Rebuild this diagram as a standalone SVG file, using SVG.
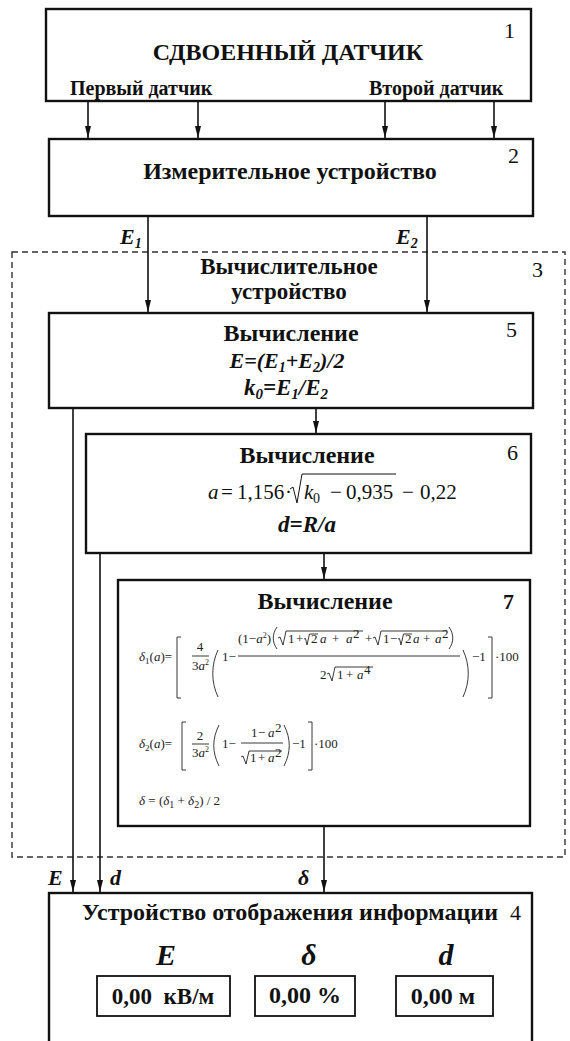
<svg xmlns="http://www.w3.org/2000/svg" width="570" height="1041" viewBox="0 0 570 1041">
<defs>
<marker id="ah" markerUnits="userSpaceOnUse" markerWidth="13" markerHeight="7" refX="12" refY="3" orient="auto"><path d="M0,0 L12,3 L0,6 z" fill="#111"/></marker>
<style>
.box{fill:#fff;stroke:#111;stroke-width:2.4}
.vbox{fill:#fff;stroke:#111;stroke-width:1.8}
.dash{fill:none;stroke:#333;stroke-width:1.4;stroke-dasharray:6 4}
.con{fill:none;stroke:#111;stroke-width:1.6}
.t{font-family:'Liberation Serif','DejaVu Serif','Times New Roman',serif;fill:#111}
.b{font-weight:bold}
.i{font-style:italic}
.m{font-family:'Liberation Serif','DejaVu Serif','Times New Roman',serif;font-size:13px;fill:#222}
.ml{fill:none;stroke:#222;stroke-width:0.9}
</style>
</defs>
<rect width="570" height="1041" fill="#fff"/>

<g id="block3">
<rect class="dash" x="12" y="252" width="553" height="605"/>
<text class="t b" font-size="23" x="289" y="274" text-anchor="middle">Вычислительное</text>
<text class="t b" font-size="23" x="289" y="299" text-anchor="middle">устройство</text>
<text class="t" font-size="22" x="532" y="277">3</text>
</g>

<g id="block1">
<rect class="box" x="46" y="9" width="485" height="92"/>
<text class="t b" font-size="24" x="288" y="60" text-anchor="middle">СДВОЕННЫЙ ДАТЧИК</text>
<text class="t" font-size="22" x="504" y="38">1</text>
<text class="t b" font-size="20" x="70" y="95">Первый датчик</text>
<text class="t b" font-size="20" x="369" y="95">Второй датчик</text>
</g>

<g id="block2">
<rect class="box" x="49" y="139" width="484" height="77"/>
<text class="t b" font-size="24" x="290" y="179" text-anchor="middle">Измерительное устройство</text>
<text class="t" font-size="22" x="508" y="163">2</text>
</g>

<g id="block5">
<rect class="box" x="49" y="313" width="484" height="95"/>
<text class="t b" font-size="24" x="291" y="341" text-anchor="middle">Вычисление</text>
<text class="t b i" font-size="22" x="287" y="368" text-anchor="middle">E=(E<tspan font-size="14" dy="4">1</tspan><tspan dy="-4">+E</tspan><tspan font-size="14" dy="4">2</tspan><tspan dy="-4">)/2</tspan></text>
<text class="t b i" font-size="23" x="286" y="395" text-anchor="middle">k<tspan font-size="15" dy="4">0</tspan><tspan dy="-4">=E</tspan><tspan font-size="15" dy="4">1</tspan><tspan dy="-4">/E</tspan><tspan font-size="15" dy="4">2</tspan></text>
<text class="t" font-size="22" x="506" y="337">5</text>
</g>

<g id="block6">
<rect class="box" x="86" y="434" width="445" height="119"/>
<text class="t b" font-size="24" x="307" y="463" text-anchor="middle">Вычисление</text>
<text class="t" font-size="22" x="507" y="460">6</text>
<g class="t" font-size="21">
<text x="208" y="499" class="i">a</text>
<text x="221" y="499">=</text>
<text x="237" y="499">1,156</text>
<text x="285" y="499">·</text>
<text x="304" y="499" class="i">k</text>
<text x="313" y="503" font-size="14">0</text>
<text x="330" y="499">−</text>
<text x="346" y="499">0,935</text>
<text x="402" y="499">−</text>
<text x="420" y="499">0,22</text>
</g>
<path d="M290,489 L293,487 L297,503 L302,474 H396" fill="none" stroke="#111" stroke-width="1"/>
<text class="t b i" font-size="23" x="307" y="532" text-anchor="middle">d=R/a</text>
</g>

<g id="block7">
<rect class="box" x="118" y="580" width="412" height="246"/>
<text class="t b" font-size="24" x="325" y="609" text-anchor="middle">Вычисление</text>
<text class="t b" font-size="22" x="503" y="609">7</text>
<text class="m" x="139" y="661"><tspan class="i">δ</tspan><tspan font-size="9" dy="3">1</tspan><tspan dy="-3">(</tspan><tspan class="i">a</tspan>)=</text>
<path class="ml" d="M181,637 H177 V698 H181"/>
<text class="m" x="200" y="651" text-anchor="middle">4</text>
<path class="ml" d="M192,656 H209"/>
<text class="m" x="192" y="670">3<tspan class="i">a</tspan><tspan font-size="8" dy="-5">2</tspan></text>
<path class="ml" d="M218,650 C211,665 211,682 218,697"/>
<text class="m" x="222" y="661">1−</text>
<text class="m" x="238" y="643">(1−<tspan class="i">a</tspan><tspan font-size="8" dy="-5">2</tspan><tspan dy="5">)</tspan></text>
<path class="ml" d="M277,627 C272,634 272,642 277,649"/>
<path class="ml" d="M278,638 L280,637 L283,645 L286,631 H363"/>
<text class="m" x="288" y="643">1</text>
<text class="m" x="296" y="643">+</text>
<path class="ml" d="M304,639 L305.5,638.5 L307,645 L309.5,634 H318"/>
<text class="m" x="311" y="643">2</text>
<text class="m" x="320" y="643"><tspan class="i">a</tspan></text>
<text class="m" x="332" y="643">+</text>
<text class="m" x="346" y="643"><tspan class="i">a</tspan></text>
<text class="m" x="353" y="638" font-size="8">2</text>
<text class="m" x="365" y="643">+</text>
<path class="ml" d="M373,638 L375,637 L378,645 L381,631 H447"/>
<text class="m" x="383" y="643">1</text>
<text class="m" x="390" y="643">−</text>
<path class="ml" d="M398,639 L399.5,638.5 L401,645 L403.5,634 H412"/>
<text class="m" x="405" y="643">2</text>
<text class="m" x="413" y="643"><tspan class="i">a</tspan></text>
<text class="m" x="423" y="643">+</text>
<text class="m" x="435" y="643"><tspan class="i">a</tspan></text>
<text class="m" x="442" y="638" font-size="8">2</text>
<path class="ml" d="M449,627 C454,634 454,642 449,649"/>
<path class="ml" d="M238,656 H460"/>
<text class="m" x="320" y="679">2</text>
<path class="ml" d="M327,674 L329,673 L332,681 L335,667 H373"/>
<text class="m" x="337" y="679">1</text>
<text class="m" x="346" y="679">+</text>
<text class="m" x="357" y="679"><tspan class="i">a</tspan></text>
<text class="m" x="364" y="674" font-size="8">4</text>
<path class="ml" d="M463,650 C470,665 470,682 463,697"/>
<text class="m" x="472" y="661">−1</text>
<path class="ml" d="M488,637 H492 V698 H488"/>
<text class="m" x="495" y="661">·100</text>
<text class="m" x="139" y="748"><tspan class="i">δ</tspan><tspan font-size="9" dy="3">2</tspan><tspan dy="-3">(</tspan><tspan class="i">a</tspan>)=</text>
<path class="ml" d="M186,722 H182 V770 H186"/>
<text class="m" x="200" y="740" text-anchor="middle">2</text>
<path class="ml" d="M192,744 H209"/>
<text class="m" x="192" y="757">3<tspan class="i">a</tspan><tspan font-size="8" dy="-5">2</tspan></text>
<path class="ml" d="M219,725 C212,739 212,752 219,766"/>
<text class="m" x="222" y="748">1−</text>
<text class="m" x="251" y="737">1</text>
<text class="m" x="258" y="737">−</text>
<text class="m" x="268" y="737"><tspan class="i">a</tspan></text>
<text class="m" x="275" y="732" font-size="8">2</text>
<path class="ml" d="M241,743 H283"/>
<path class="ml" d="M241,757 L243,756 L246,764 L249,751 H282"/>
<text class="m" x="250" y="762">1</text>
<text class="m" x="258" y="762">+</text>
<text class="m" x="268" y="762"><tspan class="i">a</tspan></text>
<text class="m" x="275" y="757" font-size="8">2</text>
<path class="ml" d="M284,725 C291,739 291,752 284,766"/>
<text class="m" x="292" y="748">−1</text>
<path class="ml" d="M308,722 H312 V770 H308"/>
<text class="m" x="314" y="748">·100</text>
<text class="m" font-size="15" x="139" y="805"><tspan class="i">δ</tspan> = (<tspan class="i">δ</tspan><tspan font-size="10" dy="3">1</tspan><tspan dy="-3"> + </tspan><tspan class="i">δ</tspan><tspan font-size="10" dy="3">2</tspan><tspan dy="-3">) / 2</tspan></text>
</g>

<g id="block4">
<rect class="box" x="49" y="893" width="483" height="170"/>
<text class="t b" font-size="24" x="290" y="920" text-anchor="middle">Устройство отображения информации</text>
<text class="t" font-size="22" x="510" y="920">4</text>
<text class="t b i" font-size="30" x="166" y="965" text-anchor="middle">E</text>
<text class="t b i" font-size="30" x="309" y="965" text-anchor="middle">δ</text>
<text class="t b i" font-size="30" x="446" y="965" text-anchor="middle">d</text>
<rect class="vbox" x="97" y="976" width="133" height="40"/>
<rect class="vbox" x="255" y="976" width="100" height="40"/>
<rect class="vbox" x="396" y="976" width="97" height="40"/>
<text class="t b" font-size="23" x="163" y="1004" text-anchor="middle" xml:space="preserve">0,00  кВ/м</text>
<text class="t b" font-size="24" x="305" y="1003" text-anchor="middle">0,00 %</text>
<text class="t b" font-size="24" x="443" y="1004" text-anchor="middle">0,00 м</text>
</g>

<g id="connectors">
<path class="con" marker-end="url(#ah)" d="M88,101 V138"/>
<path class="con" marker-end="url(#ah)" d="M198,101 V138"/>
<path class="con" marker-end="url(#ah)" d="M385,101 V138"/>
<path class="con" marker-end="url(#ah)" d="M494,101 V138"/>
<path class="con" marker-end="url(#ah)" d="M148,216 V312"/>
<path class="con" marker-end="url(#ah)" d="M427,216 V312"/>
<path class="con" marker-end="url(#ah)" d="M73,408 V892"/>
<path class="con" marker-end="url(#ah)" d="M316,408 V433"/>
<path class="con" marker-end="url(#ah)" d="M100,553 V892"/>
<path class="con" marker-end="url(#ah)" d="M324,553 V579"/>
<path class="con" marker-end="url(#ah)" d="M324,826 V892"/>
<text class="t b i" font-size="22" x="120" y="244">E<tspan font-size="14" dy="4">1</tspan></text>
<text class="t b i" font-size="22" x="396" y="244">E<tspan font-size="14" dy="4">2</tspan></text>
<text class="t b i" font-size="22" x="48" y="885">E</text>
<text class="t b i" font-size="22" x="110" y="885">d</text>
<text class="t b i" font-size="22" x="298" y="885">δ</text>
</g>
</svg>
